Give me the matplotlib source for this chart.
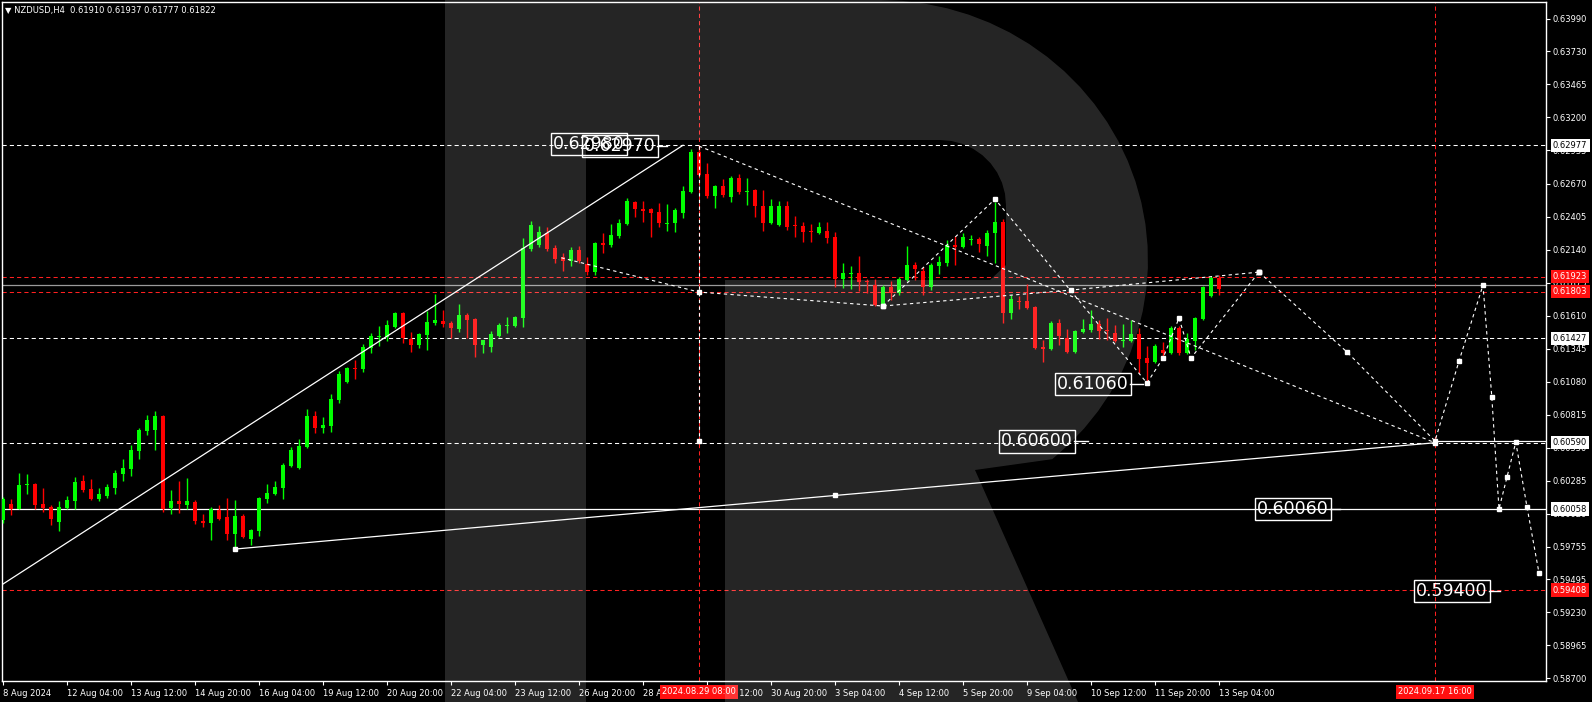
import matplotlib
matplotlib.use("Agg")
import numpy as np
import matplotlib.pyplot as plt
from matplotlib.patches import Polygon

# NZDUSD H4 candles, bar 0 = 8 Aug 2024 20:00
opens = [0.59970, 0.60098, 0.60058, 0.60250, 0.60258, 0.60098, 0.60074, 0.59954, 0.60066, 0.60122,
         0.60283, 0.60218, 0.60138, 0.60162, 0.60226, 0.60339, 0.60379, 0.60523, 0.60684, 0.60692,
         0.60804, 0.60066, 0.60122, 0.60090, 0.60114, 0.59962, 0.59946, 0.60050, 0.59994, 0.59857,
         0.60002, 0.59817, 0.59881, 0.60138, 0.60178, 0.60226, 0.60403, 0.60387, 0.60555, 0.60804,
         0.60708, 0.60724, 0.60932, 0.61077, 0.61189, 0.61181, 0.61350, 0.61438, 0.61438, 0.61518,
         0.61631, 0.61422, 0.61374, 0.61454, 0.61550, 0.61566, 0.61550, 0.61502, 0.61615, 0.61582,
         0.61374, 0.61358, 0.61446, 0.61526, 0.61526, 0.61590, 0.62144, 0.62176, 0.62273, 0.62152,
         0.62080, 0.62048, 0.62136, 0.62024, 0.61959, 0.62192, 0.62176, 0.62248, 0.62345, 0.62521,
         0.62465, 0.62465, 0.62441, 0.62345, 0.62353, 0.62433, 0.62602, 0.62922, 0.62746, 0.62569,
         0.62650, 0.62561, 0.62714, 0.62602, 0.62617, 0.62489, 0.62353, 0.62337, 0.62489, 0.62337,
         0.62329, 0.62289, 0.62273, 0.62289, 0.62240, 0.61903, 0.61943, 0.61951, 0.61887, 0.61855,
         0.61695, 0.61839, 0.61791, 0.61895, 0.62016, 0.61968, 0.61839, 0.62008, 0.62032, 0.62176,
         0.62160, 0.62216, 0.62224, 0.62168, 0.62273, 0.62361, 0.61631, 0.61727, 0.61727, 0.61679,
         0.61358, 0.61342, 0.61550, 0.61430, 0.61318, 0.61478, 0.61494, 0.61542, 0.61494, 0.61470,
         0.61406, 0.61406, 0.61462, 0.61269, 0.61237, 0.61334, 0.61310, 0.61510, 0.61310, 0.61406,
         0.61582, 0.61767, 0.61910]
highs = [0.60154, 0.60138, 0.60347, 0.60339, 0.60266, 0.60226, 0.60090, 0.60122, 0.60162, 0.60315,
         0.60331, 0.60299, 0.60226, 0.60258, 0.60371, 0.60459, 0.60571, 0.60708, 0.60812, 0.60844,
         0.60812, 0.60210, 0.60283, 0.60307, 0.60130, 0.60018, 0.60074, 0.60090, 0.60146, 0.60130,
         0.60018, 0.59897, 0.60154, 0.60258, 0.60283, 0.60427, 0.60555, 0.60619, 0.60860, 0.60844,
         0.60796, 0.60981, 0.61165, 0.61197, 0.61253, 0.61382, 0.61470, 0.61526, 0.61574, 0.61639,
         0.61639, 0.61478, 0.61470, 0.61647, 0.61783, 0.61655, 0.61566, 0.61703, 0.61631, 0.61590,
         0.61414, 0.61486, 0.61550, 0.61598, 0.61606, 0.62232, 0.62369, 0.62329, 0.62321, 0.62176,
         0.62112, 0.62160, 0.62168, 0.62080, 0.62200, 0.62273, 0.62345, 0.62385, 0.62553, 0.62529,
         0.62529, 0.62473, 0.62513, 0.62505, 0.62473, 0.62650, 0.62947, 0.62970, 0.62834, 0.62658,
         0.62706, 0.62730, 0.62746, 0.62714, 0.62626, 0.62617, 0.62545, 0.62529, 0.62529, 0.62409,
         0.62361, 0.62345, 0.62361, 0.62361, 0.62281, 0.62032, 0.62008, 0.62088, 0.61903, 0.61903,
         0.61855, 0.61887, 0.61919, 0.62168, 0.62040, 0.62000, 0.62032, 0.62088, 0.62216, 0.62248,
         0.62273, 0.62256, 0.62240, 0.62297, 0.62521, 0.62385, 0.61775, 0.61767, 0.61863, 0.61687,
         0.61414, 0.61566, 0.61582, 0.61502, 0.61494, 0.61582, 0.61655, 0.61574, 0.61590, 0.61534,
         0.61542, 0.61574, 0.61510, 0.61366, 0.61382, 0.61398, 0.61526, 0.61526, 0.61470, 0.61598,
         0.61847, 0.61928, 0.61937]
lows = [0.59946, 0.60010, 0.60058, 0.60178, 0.60058, 0.60034, 0.59930, 0.59881, 0.60058, 0.60058,
        0.60194, 0.60130, 0.60122, 0.60146, 0.60178, 0.60283, 0.60323, 0.60459, 0.60652, 0.60531,
        0.60034, 0.60018, 0.60026, 0.60058, 0.59938, 0.59914, 0.59809, 0.59970, 0.59809, 0.59721,
        0.59825, 0.59769, 0.59841, 0.60106, 0.60170, 0.60138, 0.60395, 0.60379, 0.60547, 0.60668,
        0.60668, 0.60676, 0.60908, 0.61069, 0.61101, 0.61157, 0.61310, 0.61366, 0.61406, 0.61510,
        0.61390, 0.61318, 0.61350, 0.61334, 0.61534, 0.61518, 0.61430, 0.61478, 0.61430, 0.61277,
        0.61310, 0.61318, 0.61438, 0.61470, 0.61518, 0.61518, 0.62128, 0.62160, 0.62128, 0.62032,
        0.61968, 0.62008, 0.62032, 0.61935, 0.61935, 0.62112, 0.62160, 0.62232, 0.62337, 0.62401,
        0.62361, 0.62240, 0.62321, 0.62289, 0.62281, 0.62393, 0.62594, 0.62730, 0.62553, 0.62473,
        0.62561, 0.62521, 0.62585, 0.62497, 0.62401, 0.62289, 0.62345, 0.62329, 0.62297, 0.62240,
        0.62200, 0.62200, 0.62265, 0.62192, 0.61839, 0.61831, 0.61823, 0.61807, 0.61791, 0.61687,
        0.61679, 0.61735, 0.61775, 0.61887, 0.61895, 0.61775, 0.61815, 0.61943, 0.62008, 0.62016,
        0.62152, 0.62176, 0.62120, 0.62088, 0.62032, 0.61550, 0.61582, 0.61663, 0.61663, 0.61342,
        0.61237, 0.61334, 0.61374, 0.61310, 0.61310, 0.61470, 0.61478, 0.61422, 0.61414, 0.61398,
        0.61358, 0.61398, 0.61149, 0.61061, 0.61229, 0.61253, 0.61302, 0.61294, 0.61302, 0.61334,
        0.61574, 0.61759, 0.61777]
closes = [0.60138, 0.60058, 0.60250, 0.60258, 0.60090, 0.60066, 0.59978, 0.60074, 0.60130, 0.60275,
          0.60210, 0.60138, 0.60178, 0.60234, 0.60347, 0.60387, 0.60531, 0.60692, 0.60772, 0.60804,
          0.60058, 0.60122, 0.60098, 0.60122, 0.59962, 0.59946, 0.60058, 0.59978, 0.59857, 0.60002,
          0.59833, 0.59889, 0.60146, 0.60186, 0.60234, 0.60411, 0.60531, 0.60563, 0.60804, 0.60708,
          0.60732, 0.60941, 0.61141, 0.61189, 0.61181, 0.61358, 0.61446, 0.61446, 0.61534, 0.61631,
          0.61430, 0.61374, 0.61462, 0.61558, 0.61574, 0.61542, 0.61510, 0.61615, 0.61574, 0.61374,
          0.61414, 0.61462, 0.61534, 0.61534, 0.61598, 0.62152, 0.62337, 0.62281, 0.62144, 0.62064,
          0.62048, 0.62136, 0.62048, 0.61959, 0.62192, 0.62176, 0.62256, 0.62353, 0.62529, 0.62465,
          0.62449, 0.62433, 0.62353, 0.62353, 0.62457, 0.62610, 0.62922, 0.62738, 0.62569, 0.62650,
          0.62577, 0.62714, 0.62602, 0.62610, 0.62489, 0.62353, 0.62489, 0.62489, 0.62321, 0.62329,
          0.62281, 0.62281, 0.62321, 0.62232, 0.61903, 0.61951, 0.61951, 0.61879, 0.61879, 0.61695,
          0.61839, 0.61791, 0.61903, 0.62016, 0.61984, 0.61839, 0.62016, 0.62040, 0.62176, 0.62160,
          0.62240, 0.62224, 0.62184, 0.62273, 0.62361, 0.61631, 0.61743, 0.61719, 0.61671, 0.61350,
          0.61342, 0.61550, 0.61446, 0.61318, 0.61486, 0.61502, 0.61542, 0.61486, 0.61486, 0.61406,
          0.61414, 0.61462, 0.61261, 0.61229, 0.61366, 0.61310, 0.61510, 0.61310, 0.61422, 0.61590,
          0.61839, 0.61912, 0.61822]

price_ticks = [0.63990, 0.63730, 0.63465, 0.63200, 0.62935, 0.62670, 0.62405, 0.62140, 0.61875,
               0.61610, 0.61345, 0.61080, 0.60815, 0.60550, 0.60285, 0.60020, 0.59755, 0.59495,
               0.59230, 0.58965, 0.58700]
time_labels = ["8 Aug 2024", "12 Aug 04:00", "13 Aug 12:00", "14 Aug 20:00", "16 Aug 04:00",
               "19 Aug 12:00", "20 Aug 20:00", "22 Aug 04:00", "23 Aug 12:00", "26 Aug 20:00",
               "28 Aug 04:00", "29 Aug 12:00", "30 Aug 20:00", "3 Sep 04:00", "4 Sep 12:00",
               "5 Sep 20:00", "9 Sep 04:00", "10 Sep 12:00", "11 Sep 20:00", "13 Sep 04:00"]

# horizontal levels
levels_white_dash = [0.62977, 0.61427, 0.60590]
levels_red_dash = [0.61923, 0.61803, 0.59408]
level_solid = 0.60058
bid_line = 0.61855
axis_boxes = [("0.62977", 0.62977, "white"), ("0.61923", 0.61923, "red"),
              ("0.61803", 0.61803, "red"), ("0.61427", 0.61427, "white"),
              ("0.60590", 0.60590, "white"), ("0.60058", 0.60058, "white"),
              ("0.59408", 0.59408, "red")]
vlines_bars = [87, 179]
vline_labels = ["2024.08.29 08:00", "2024.09.17 16:00"]

# analysis drawings (bar index, price)
trend1_x, trend1_y = [-1, 85], [0.59415, 0.62977]
trend2_x, trend2_y = [29, 104, 179], [0.59737, 0.60167, 0.60590]
lineA_x, lineA_y = [87, 179], [0.62970, 0.60590]
drop_x, drop_y = [87, 87], [0.62970, 0.60600]
lineB_x = [69.8, 87, 110, 133.5, 157]
lineB_y = [0.62074, 0.61799, 0.61687, 0.61815, 0.61959]
lineC_x = [110, 124, 143]
lineC_y = [0.61687, 0.62545, 0.61069]
zig_x = [143, 145, 147, 148.5, 157]
zig_y = [0.61069, 0.61269, 0.61591, 0.61270, 0.61959]
fc_x = [157, 168, 179, 182, 185, 186.1, 187, 188, 189.1, 190.5, 192]
fc_y = [0.61959, 0.61318, 0.60604, 0.61245, 0.61855, 0.60957, 0.60058, 0.60315, 0.60595, 0.60074, 0.59545]

big_labels = [("0.62980", 73.25, 0.62987), ("0.62970", 77.1, 0.62970), ("0.61060", 136.2, 0.61060),
              ("0.60600", 129.25, 0.60600), ("0.60060", 161.25, 0.60060), ("0.59400", 181.1, 0.59400)]
label_dashes = [(81.75, 83.0, 0.62970), (140.9, 142.5, 0.61060), (133.9, 135.6, 0.60600),
                (165.9, 167.1, 0.60060), (185.75, 187.1, 0.59400)]

W, H = 1592, 702
fig = plt.figure(figsize=(W / 100, H / 100), dpi=100, facecolor="black")
ax = fig.add_axes([2 / W, 21 / H, 1544 / W, 679 / H])
ax.set_facecolor("black")
ax.set_xlim(-0.125, 192.875)
ax.set_ylim(0.586783, 0.641264)

# candles
xs = list(range(len(opens)))
cols = ["#00ff00" if c >= o else "#ff0000" for o, c in zip(opens, closes)]
ax.vlines(xs, lows, highs, colors=cols, linewidth=1, zorder=3)
bottoms = [min(o, c) for o, c in zip(opens, closes)]
heights = [max(abs(c - o), 0.00009) for o, c in zip(opens, closes)]
ax.bar(xs, heights, bottom=bottoms, width=0.62, color=cols, linewidth=0, zorder=4)

# levels
for p in levels_white_dash:
    ax.axhline(p, color="white", lw=0.75, dashes=(4, 3), zorder=2)
for p in levels_red_dash:
    ax.axhline(p, color="#ff2020", lw=0.75, dashes=(4, 3), zorder=2)
ax.axhline(level_solid, color="white", lw=0.9, zorder=2)
ax.axhline(bid_line, color="#9a9a9a", lw=0.9, zorder=2)
ax.plot([179, 192.875], [0.60600, 0.60600], color="white", lw=0.9, zorder=2)
for b in vlines_bars:
    ax.axvline(b, color="#ff2020", lw=0.75, dashes=(4, 3), zorder=2)

# drawings
ax.plot(trend1_x, trend1_y, color="white", lw=0.9, zorder=5)
ax.plot(trend2_x, trend2_y, color="white", lw=0.9, zorder=5)
dash = dict(color="white", lw=0.8, dashes=(3, 3), zorder=5)
ax.plot(lineA_x, lineA_y, **dash)
ax.plot(drop_x, drop_y, **dash)
ax.plot(lineB_x, lineB_y, **dash)
ax.plot(lineC_x, lineC_y, **dash)
ax.plot(zig_x, zig_y, **dash)
ax.plot(fc_x, fc_y, **dash)
mk = dict(ls="none", marker="s", ms=3.5, color="white", zorder=6)
ax.plot(trend2_x, trend2_y, **mk)
ax.plot([87, 87], [0.60600, 0.61799], **mk)
ax.plot(lineB_x[2:], lineB_y[2:], **mk)
ax.plot(lineC_x, lineC_y, **mk)
ax.plot(zig_x[1:], zig_y[1:], **mk)
ax.plot(fc_x, fc_y, **mk)

for txt, bx, py in big_labels:
    ax.text(bx, py, txt, color="white", fontsize=12.5, ha="center", va="center", zorder=7,
            bbox=dict(boxstyle="square,pad=0.12", fc="none", ec="white", lw=1))
for x0, x1, py in label_dashes:
    ax.plot([x0, x1], [py, py], color="white", lw=1, zorder=7)

# axes styling
for s in ax.spines.values():
    s.set_color("white")
    s.set_linewidth(1)
ax.yaxis.tick_right()
ax.set_yticks(price_ticks)
ax.set_yticklabels([f"{p:.5f}" for p in price_ticks])
ax.set_xticks(range(0, 8 * len(time_labels), 8))
ax.set_xticklabels(time_labels, ha="left")
ax.tick_params(colors="white", labelsize=6, length=3, width=0.8, pad=2)
ax.tick_params(axis="x", pad=3)

yax = ax.get_yaxis_transform()
for txt, py, c in axis_boxes:
    fc = "white" if c == "white" else "#ff1010"
    tc = "black" if c == "white" else "white"
    ax.text(1.0045, py, txt, transform=yax, color=tc, fontsize=6, ha="left", va="center",
            zorder=8, clip_on=False,
            bbox=dict(boxstyle="square,pad=0.25", fc=fc, ec="none"))
xax = ax.get_xaxis_transform()
for b, txt in zip(vlines_bars, vline_labels):
    ax.text(b, -0.0155, txt, transform=xax, color="white", fontsize=6, ha="center", va="center",
            zorder=8, clip_on=False,
            bbox=dict(boxstyle="square,pad=0.3", fc="#ff1010", ec="none"))

fig.text(5 / W, 1 - 10 / H, "\u25bc NZDUSD,H4  0.61910 0.61937 0.61777 0.61822",
         color="white", fontsize=6, va="center", ha="left")

# watermark logo outline (figure pixels, rounded bowl)
th = np.radians(np.linspace(90, -50, 30))
bowl = [(880 + 268 * np.cos(t), 260 - 260 * np.sin(t)) for t in th]
th2 = np.radians(np.linspace(90, 0, 10))
hole = [(940 + 66 * np.cos(t), 205 - 65 * np.sin(t)) for t in th2][::-1]
logo = ([(445, 0)] + bowl + [(975, 470), (1078, 702), (725, 702), (725, 280),
        (990, 280), (1006, 265)] + hole + [(586, 140), (586, 702), (445, 702)])
poly = Polygon([(x / W, 1 - y / H) for x, y in logo], closed=True, transform=fig.transFigure,
               fc="white", alpha=0.15, ec="none", zorder=20)
fig.patches.append(poly)

fig.savefig("out.png", dpi=100, facecolor="black")
